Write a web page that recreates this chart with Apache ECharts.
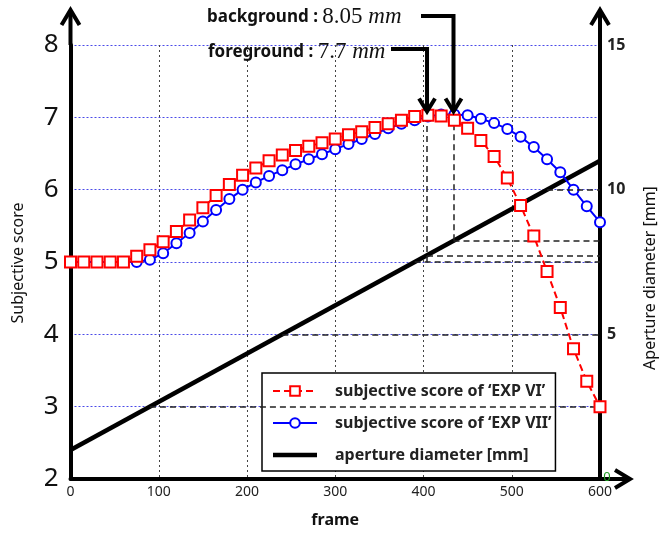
<!DOCTYPE html>
<html>
<head>
<meta charset="utf-8">
<script src="https://cdn.jsdelivr.net/npm/echarts@6/dist/echarts.min.js"></script>
<style>html,body{margin:0;padding:0;background:#fff}#c{width:666px;height:533px}</style>
</head>
<body>
<div id="c"></div>
<script>
// ---- data ----
const frames = [0,15,30,45,60,75,90,105,120,135,150,165,180,195,210,225,240,255,270,285,300,315,330,345,360,375,390,405,420,435,450,465,480,495,510,525,540,555,570,585,600];
const expVI  = [5.0,5.0,5.0,5.0,5.0,5.08,5.17,5.28,5.42,5.58,5.75,5.92,6.07,6.2,6.3,6.4,6.48,6.54,6.6,6.65,6.7,6.76,6.8,6.86,6.91,6.96,7.01,7.03,7.02,6.96,6.85,6.68,6.46,6.16,5.78,5.36,4.87,4.37,3.8,3.35,3.0];
const expVII = [5.0,5.0,5.0,5.0,5.0,5.0,5.03,5.12,5.26,5.4,5.56,5.72,5.87,6.0,6.1,6.19,6.27,6.35,6.42,6.49,6.56,6.63,6.7,6.77,6.85,6.91,6.96,7.01,7.04,7.04,7.03,6.98,6.92,6.84,6.73,6.59,6.42,6.24,6.0,5.77,5.55];
const apertureFrames = [0, 600];
const apertureMM = [1, 11];
const xTicks = [0,100,200,300,400,500,600];
const leftTicks = [2,3,4,5,6,7,8];
const rightTicks = [0,5,10,15];
// horizontal reference segments on the aperture axis: [fromFrame, toFrame, mm]
const refH = [[90,600,2.5],[240,600,5],[390,600,7.5],[404,600,7.72],[434,600,8.25],[540,600,10]];
// vertical reference segments on the score axis: [frame, fromScore, toScore]
const refV = [[404,5.0,7.03],[434,5.3,7.04]];
// annotations: [label, value, frame]
const annFore = ['foreground : ', '7.7 ', 404];
const annBack = ['background : ', '8.05 ', 434];

const chart = echarts.init(document.getElementById('c'), null, {renderer:'canvas'});
const SANS = '"Noto Sans", "DejaVu Sans", sans-serif';

const option = {
  animation: false,
  backgroundColor: '#fff',
  grid: {left: 70.5, right: 66, top: 45, bottom: 52},
  xAxis: {
    type: 'value', min: xTicks[0], max: xTicks[xTicks.length-1], interval: 100,
    axisLine: {show: true, lineStyle: {color: '#000', width: 4}},
    axisTick: {show: false},
    axisLabel: {fontSize: 14, color: '#222', margin: 6, fontFamily: SANS},
    splitLine: {show: true, lineStyle: {color: '#444', type: [2,3], width: 1}},
    name: 'frame', nameLocation: 'middle', nameGap: 33,
    nameTextStyle: {fontSize: 16, fontWeight: 'bold', color: '#111', fontFamily: SANS}
  },
  yAxis: [{
    type: 'value', min: leftTicks[0], max: leftTicks[leftTicks.length-1], interval: 1,
    axisLine: {show: true, onZero: false, lineStyle: {color: '#000', width: 4}},
    axisTick: {show: false},
    axisLabel: {fontSize: 26, color: '#111', margin: 12, fontFamily: SANS},
    splitLine: {show: true, lineStyle: {color: '#4a4ae8', type: [2,2], width: 1}}
  },{
    type: 'value', min: rightTicks[0], max: rightTicks[rightTicks.length-1], interval: 5,
    position: 'right',
    axisLine: {show: true, onZero: false, lineStyle: {color: '#000', width: 4}},
    axisTick: {show: false},
    axisLabel: {fontSize: 16, fontWeight: 'bold', color: '#222', margin: 7, fontFamily: SANS,
      formatter: v => v === 0 ? '' : String(v)},
    splitLine: {show: false}
  }],
  legend: {
    orient: 'vertical', left: 262, top: 373,
    padding: [10, 4, 8, 10],
    borderColor: '#000', borderWidth: 1.5, backgroundColor: '#fff',
    itemWidth: 44, itemHeight: 12, itemGap: 16,
    textStyle: {fontSize: 16, fontWeight: 'bold', color: '#222', fontFamily: SANS, lineHeight: 14, padding: [0,0,0,13]},
    data: [
      'subjective score of \u2018EXP VI\u2019',
      'subjective score of \u2018EXP VII\u2019',
      {name: 'aperture diameter [mm]', icon: 'path://M0,0L44,0L44,4.5L0,4.5Z'}
    ]
  },
  series: [
    {
      name: 'aperture diameter [mm]', type: 'line', yAxisIndex: 1, z: 3,
      data: apertureFrames.map((f,i) => [f, apertureMM[i]]),
      symbol: 'none', lineStyle: {color: '#000', width: 4.5}, itemStyle: {color: '#000'},
      markLine: {
        silent: true, symbol: ['none','none'], label: {show: false},
        lineStyle: {color: '#222', type: [6,4], width: 1.5},
        data: refH.map(r => [{coord: [r[0], r[2]]}, {coord: [r[1], r[2]]}])
      }
    },
    {
      name: 'subjective score of \u2018EXP VII\u2019', type: 'line', yAxisIndex: 0, z: 4,
      data: frames.map((f,i) => [f, expVII[i]]),
      symbol: 'emptyCircle', symbolSize: 10,
      lineStyle: {color: '#0000ff', width: 2}, itemStyle: {color: '#0000ff', borderWidth: 2},
      markLine: {
        silent: true, symbol: ['none','none'], label: {show: false},
        lineStyle: {color: '#222', type: [6,4], width: 1.5},
        data: refV.map(r => [{coord: [r[0], r[1]]}, {coord: [r[0], r[2]]}])
      }
    },
    {
      name: 'subjective score of \u2018EXP VI\u2019', type: 'line', yAxisIndex: 0, z: 5,
      data: frames.map((f,i) => [f, expVI[i]]),
      symbol: 'emptyRect', symbolSize: 11,
      lineStyle: {color: '#ff0000', width: 2, type: [7,4]}, itemStyle: {color: '#ff0000', borderWidth: 2}
    }
  ]
};
chart.setOption(option);

// ---- decorations computed from axes ----
const p = (x, y, yi) => chart.convertToPixel({xAxisIndex: 0, yAxisIndex: yi || 0}, [x, y]);
const origin = p(0, 2);
const topL = p(0, 8);
const endX = p(600, 2);
const topR = p(600, 8);
const AW = 4;
function chevUp(x, y) { return {type:'polyline', shape:{points:[[x-9,y+15],[x,y],[x+9,y+15]]}, style:{stroke:'#000', lineWidth:AW, fill:null}, z:20}; }
function chevDown(x, y) { return {type:'polyline', shape:{points:[[x-8,y-13],[x,y],[x+8,y-13]]}, style:{stroke:'#000', lineWidth:AW, fill:null}, z:20}; }
const g = [];
// axis extensions + arrowheads
g.push({type:'line', shape:{x1:origin[0], y1:topL[1], x2:origin[0], y2:10}, style:{stroke:'#000', lineWidth:AW}, z:20});
g.push(chevUp(origin[0], 10));
g.push({type:'line', shape:{x1:topR[0], y1:topR[1], x2:topR[0], y2:10}, style:{stroke:'#000', lineWidth:AW}, z:20});
g.push(chevUp(topR[0], 10));
g.push({type:'line', shape:{x1:endX[0], y1:endX[1], x2:630, y2:endX[1]}, style:{stroke:'#000', lineWidth:AW}, z:20});
g.push({type:'polyline', shape:{points:[[615,endX[1]-9],[630,endX[1]],[615,endX[1]+9]]}, style:{stroke:'#000', lineWidth:AW, fill:null}, z:20});
// green stray zero on right axis
g.push({type:'text', x: endX[0]+7, y: endX[1]-2, style:{text:'0', fill:'#1e9a1e', font:'13px ' + SANS, textAlign:'center', textVerticalAlign:'middle'}, z:21});
// axis titles
g.push({type:'text', x:18, y:263, rotation:Math.PI/2, style:{text:'Subjective score', fill:'#111', font:'16px ' + SANS, textAlign:'center', textVerticalAlign:'middle'}});
g.push({type:'text', x:650, y:278, rotation:Math.PI/2, style:{text:'Aperture diameter [mm]', fill:'#111', font:'16px ' + SANS, textAlign:'center', textVerticalAlign:'middle'}});
// annotations
const rich = {
  a: {fontFamily: SANS, fontSize: 17, fontWeight: 'bold', fill: '#111'},
  b: {fontFamily: '"Liberation Serif", serif', fontSize: 23, fill: '#111'},
  c: {fontFamily: '"Liberation Serif", serif', fontSize: 23, fontStyle: 'italic', fill: '#111'}
};
g.push({type:'text', x:207, y:17, style:{text:'{a|' + annBack[0] + '}{b|' + annBack[1] + '}{c|mm}', rich: rich, textVerticalAlign:'middle'}});
g.push({type:'text', x:208, y:52, style:{text:'{a|' + annFore[0] + '}{b|' + annFore[1] + '}{c|mm}', rich: rich, textVerticalAlign:'middle'}});
const tipF = p(annFore[2], 7.08);
const tipB = p(annBack[2], 7.08);
g.push({type:'polyline', shape:{points:[[391,49],[tipF[0],49],[tipF[0],tipF[1]]]}, style:{stroke:'#000', lineWidth:AW, fill:null}, z:20});
g.push(chevDown(tipF[0], tipF[1]));
g.push({type:'polyline', shape:{points:[[421,16],[tipB[0],16],[tipB[0],tipB[1]]]}, style:{stroke:'#000', lineWidth:AW, fill:null}, z:20});
g.push(chevDown(tipB[0], tipB[1]));
chart.setOption({graphic: g});
</script>
</body>
</html>
